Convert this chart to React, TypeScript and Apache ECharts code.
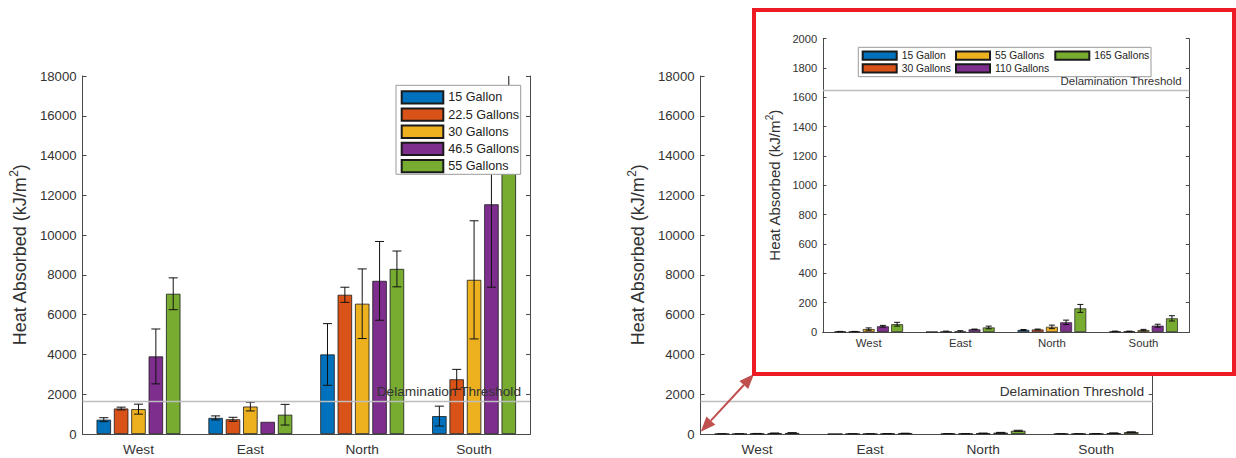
import React, { useEffect, useRef } from 'react';
import * as echarts from 'echarts';

const categories = ['West', 'East', 'North', 'South'];

// Full-size tanks
const bigNames = ['15 Gallon', '22.5 Gallons', '30 Gallons', '46.5 Gallons', '55 Gallons'];
const big15 = [720, 810, 4000, 900];
const big15Err = [100, 100, 1550, 500];
const big22 = [1280, 740, 7000, 2750];
const big22Err = [70, 100, 380, 500];
const big30 = [1250, 1380, 6550, 7750];
const big30Err = [250, 220, 1750, 2970];
const big46 = [3900, 610, 7700, 11550];
const big46Err = [1380, 0, 1980, 4170];
const big55 = [7050, 970, 8300, 15700];
const big55Err = [800, 520, 900, 2600];

// Scaled tanks
const smallNames = ['15 Gallon', '30 Gallons', '55 Gallons', '110 Gallons', '165 Gallons'];
const small15 = [3, 1, 14, 4];
const small15Err = [1, 0, 3, 2];
const small30 = [3, 2, 17, 4];
const small30Err = [1, 4, 3, 2];
const small55 = [20, 3, 35, 13];
const small55Err = [8, 6, 12, 5];
const small110 = [39, 18, 66, 43];
const small110Err = [6, 2, 15, 10];
const small165 = [53, 31, 161, 93];
const small165Err = [13, 9, 27, 18];

const threshold = 1650;
const thresholdText = 'Delamination Threshold';

const colors = ['#0072BD', '#D95319', '#EDB120', '#7E2F8E', '#77AC30'];
const FONT = '"Liberation Sans", Arial, Helvetica, sans-serif';
const AXIS = '#4a4a4a';
const TEXT = '#333';

type PlotCfg = {
  names: string[];
  values: number[][];
  errors: number[][];
  grid: { left: number; top: number; width: number; height: number };
  yMax: number;
  yStep: number;
  tickFont: number;
  catFont: number;
  labelMargin: number;
  catMargin: number;
  nameFont: number;
  supFont: number;
  nameLine: number;
  nameGap: number;
  threshFont: number;
  threshDist: number[];
  capHalf: number;
  tickLen: number;
  borderWidth: number;
};

const CAT_GAP = 0.25;
const BAR_GAP = 0.2;

function buildPlot(cfg: PlotCfg): any {
  const n = cfg.names.length;
  const errData: number[][] = [];
  cfg.values.forEach((vals, s) => {
    vals.forEach((v, c) => errData.push([c, v, cfg.errors[s][c], s]));
  });

  const tick = { inside: true, length: cfg.tickLen, lineStyle: { color: AXIS, width: 1 } };
  const line = { show: true, lineStyle: { color: AXIS, width: 1 } };

  const bars = cfg.names.map((name, i) => ({
    type: 'bar',
    name,
    data: cfg.values[i],
    barGap: `${BAR_GAP * 100}%`,
    barCategoryGap: `${CAT_GAP * 100}%`,
    itemStyle: { color: colors[i], borderColor: '#1a1a1a', borderWidth: cfg.borderWidth },
    z: 2,
  }));

  const errorBars = {
    type: 'custom',
    name: 'error',
    data: errData,
    encode: { x: 0, y: 1 },
    clip: true,
    z: 3,
    silent: true,
    renderItem: (params: any, api: any) => {
      const c = api.value(0);
      const v = api.value(1);
      const e = api.value(2);
      const s = api.value(3);
      if (!e) return { type: 'group', children: [] };
      const band = api.size([1, 0])[0];
      const bw = (band * (1 - CAT_GAP)) / (n + (n - 1) * BAR_GAP);
      const x = api.coord([c, 0])[0] + (s - (n - 1) / 2) * bw * (1 + BAR_GAP);
      const yt = api.coord([c, v + e])[1];
      const yb = api.coord([c, v - e])[1];
      const st = { stroke: '#111', lineWidth: 1 };
      const h = cfg.capHalf;
      return {
        type: 'group',
        children: [
          { type: 'line', shape: { x1: x, y1: yt, x2: x, y2: yb }, style: st },
          { type: 'line', shape: { x1: x - h, y1: yt, x2: x + h, y2: yt }, style: st },
          { type: 'line', shape: { x1: x - h, y1: yb, x2: x + h, y2: yb }, style: st },
        ],
      };
    },
    markLine: {
      silent: true,
      symbol: ['none', 'none'],
      lineStyle: { color: '#bdbdbd', width: 1.3, type: 'solid' },
      label: {
        show: true,
        position: 'insideEndTop',
        formatter: thresholdText,
        fontSize: cfg.threshFont,
        fontFamily: FONT,
        color: TEXT,
        distance: cfg.threshDist,
      },
      data: [{ yAxis: threshold }],
    },
  };

  return {
    animation: false,
    grid: { ...cfg.grid, containLabel: false },
    xAxis: [
      {
        type: 'category',
        data: categories,
        position: 'bottom',
        axisLine: line,
        axisTick: { ...tick, alignWithLabel: true },
        axisLabel: { color: TEXT, fontSize: cfg.catFont, fontFamily: FONT, margin: cfg.catMargin },
        splitLine: { show: false },
      },
      {
        type: 'category',
        data: categories,
        position: 'top',
        axisLine: line,
        axisTick: { ...tick, alignWithLabel: true },
        axisLabel: { show: false },
        splitLine: { show: false },
      },
    ],
    yAxis: [
      {
        type: 'value',
        min: 0,
        max: cfg.yMax,
        interval: cfg.yStep,
        position: 'left',
        axisLine: line,
        axisTick: { show: true, ...tick },
        axisLabel: {
          color: TEXT,
          fontSize: cfg.tickFont,
          fontFamily: FONT,
          margin: cfg.labelMargin,
          formatter: (v: number) => String(v),
        },
        splitLine: { show: false },
        name: '{t|Heat Absorbed (kJ/m}{s|2}{t|)}',
        nameLocation: 'middle',
        nameGap: cfg.nameGap,
        nameTextStyle: {
          rich: {
            t: { fontSize: cfg.nameFont, lineHeight: cfg.nameLine, color: TEXT, fontFamily: FONT },
            s: { fontSize: cfg.supFont, verticalAlign: 'top', color: TEXT, fontFamily: FONT },
          },
        },
      },
      {
        type: 'value',
        min: 0,
        max: cfg.yMax,
        interval: cfg.yStep,
        position: 'right',
        axisLine: line,
        axisTick: { show: true, ...tick },
        axisLabel: { show: false },
        splitLine: { show: false },
      },
    ],
    series: [...bars, errorBars],
  };
}

const mainCfg = {
  yMax: 18000,
  yStep: 2000,
  tickFont: 13.2,
  catFont: 13.7,
  labelMargin: 6,
  catMargin: 8,
  nameFont: 18,
  supFont: 12,
  nameLine: 24,
  nameGap: 44,
  threshFont: 13.7,
  capHalf: 4.5,
  tickLen: 4,
  borderWidth: 0.8,
};

const leftOption = {
  ...buildPlot({
    ...mainCfg,
    names: bigNames,
    values: [big15, big22, big30, big46, big55],
    errors: [big15Err, big22Err, big30Err, big46Err, big55Err],
    grid: { left: 78, top: 76, width: 452, height: 358 },
    threshDist: [9, 3],
  }),
  legend: {
    data: bigNames,
    orient: 'vertical',
    left: 400.7,
    top: 90.3,
    icon: 'rect',
    itemWidth: 41.6,
    itemHeight: 12.3,
    itemGap: 2.85,
    padding: 0,
    selectedMode: false,
    textStyle: { fontSize: 12.6, color: '#222', fontFamily: FONT, lineHeight: 12 },
    z: 6,
  },
  graphic: [
    {
      type: 'rect',
      z: 5,
      shape: { x: 396, y: 85.3, width: 124.7, height: 89 },
      style: { fill: '#fff', stroke: '#9a9a9a', lineWidth: 1 },
    },
  ],
};

// Double-headed arrow joining the origin to the magnified view
const arrowTipA = [82.7, 431.7];
const arrowTipB = [136, 374];
function arrowGraphic() {
  const dx = arrowTipB[0] - arrowTipA[0];
  const dy = arrowTipB[1] - arrowTipA[1];
  const len = Math.hypot(dx, dy);
  const ux = dx / len;
  const uy = dy / len;
  const nx = -uy;
  const ny = ux;
  const hl = 15;
  const hw = 6;
  const bA = [arrowTipA[0] + ux * hl, arrowTipA[1] + uy * hl];
  const bB = [arrowTipB[0] - ux * hl, arrowTipB[1] - uy * hl];
  const col = '#C0504D';
  return [
    {
      type: 'line',
      z: 10,
      shape: { x1: bA[0], y1: bA[1], x2: bB[0], y2: bB[1] },
      style: { stroke: col, lineWidth: 2 },
    },
    {
      type: 'polygon',
      z: 10,
      shape: {
        points: [arrowTipA, [bA[0] + nx * hw, bA[1] + ny * hw], [bA[0] - nx * hw, bA[1] - ny * hw]],
      },
      style: { fill: col },
    },
    {
      type: 'polygon',
      z: 10,
      shape: {
        points: [arrowTipB, [bB[0] + nx * hw, bB[1] + ny * hw], [bB[0] - nx * hw, bB[1] - ny * hw]],
      },
      style: { fill: col },
    },
  ];
}

const rightOption = {
  ...buildPlot({
    ...mainCfg,
    names: smallNames,
    values: [small15, small30, small55, small110, small165],
    errors: [small15Err, small30Err, small55Err, small110Err, small165Err],
    grid: { left: 82, top: 76, width: 452.7, height: 358 },
    threshDist: [8.7, 3],
  }),
  graphic: arrowGraphic(),
};

const insetLegendBase = {
  orient: 'vertical',
  top: 38.4,
  icon: 'rect',
  itemWidth: 34,
  itemHeight: 8.3,
  itemGap: 2.5,
  padding: 0,
  selectedMode: false,
  textStyle: { fontSize: 10.3, color: '#222', fontFamily: FONT, lineHeight: 8 },
  z: 6,
};

const insetOption = {
  ...buildPlot({
    names: smallNames,
    values: [small15, small30, small55, small110, small165],
    errors: [small15Err, small30Err, small55Err, small110Err, small165Err],
    grid: { left: 62.3, top: 26.7, width: 371, height: 293.3 },
    yMax: 2000,
    yStep: 200,
    tickFont: 11.2,
    catFont: 11.4,
    labelMargin: 5.6,
    catMargin: 5,
    nameFont: 15,
    supFont: 10,
    nameLine: 20,
    nameGap: 33,
    threshFont: 11.5,
    threshDist: [7.6, 3],
    capHalf: 3,
    tickLen: 3.5,
    borderWidth: 0.7,
  }),
  legend: [
    { ...insetLegendBase, left: 105.7, data: ['15 Gallon', '30 Gallons'] },
    { ...insetLegendBase, left: 199, data: ['55 Gallons', '110 Gallons'] },
    { ...insetLegendBase, left: 298.3, data: ['165 Gallons'] },
  ],
  graphic: [
    {
      type: 'rect',
      z: 5,
      shape: { x: 102.3, y: 35.3, width: 292.7, height: 29.4 },
      style: { fill: '#fff', stroke: '#9a9a9a', lineWidth: 1 },
    },
  ],
};

function EChart({ option, style }: { option: any; style: React.CSSProperties }) {
  const ref = useRef<HTMLDivElement>(null);
  useEffect(() => {
    const chart = echarts.init(ref.current as HTMLDivElement, null, { renderer: 'svg' });
    chart.setOption(option);
    return () => chart.dispose();
  }, [option]);
  return <div ref={ref} style={style} />;
}

export default function App() {
  return (
    <div
      style={{
        position: 'absolute',
        left: 0,
        top: 0,
        width: 1236,
        height: 458,
        background: '#fff',
        overflow: 'hidden',
      }}
    >
      <EChart option={leftOption} style={{ position: 'absolute', left: 0, top: 0, width: 618, height: 458 }} />
      <EChart option={rightOption} style={{ position: 'absolute', left: 618, top: 0, width: 618, height: 458 }} />
      <div
        style={{
          position: 'absolute',
          left: 752,
          top: 8,
          width: 484,
          height: 368,
          boxSizing: 'border-box',
          border: '4px solid #ED1C24',
          background: '#fff',
        }}
      >
        <EChart option={insetOption} style={{ width: 476, height: 360 }} />
      </div>
    </div>
  );
}
